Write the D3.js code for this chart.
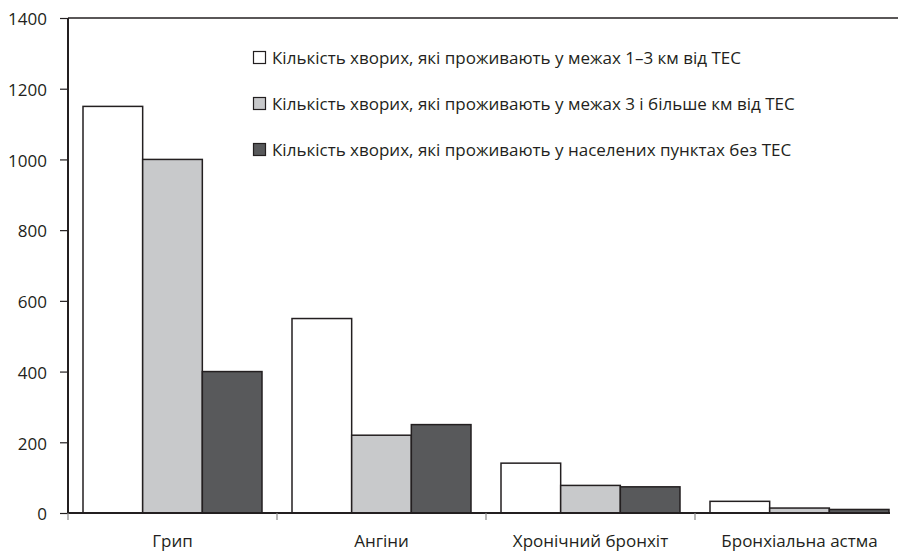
<!DOCTYPE html>
<html>
<head>
<meta charset="utf-8">
<script src="https://cdn.jsdelivr.net/npm/d3@7"></script>
<style>
	body { margin: 0; background: #fff; }
	text { font-family: "Open Sans", "Noto Sans", sans-serif; fill: #231f20; }
</style>
</head>
<body>
<svg width="898" height="551"></svg>
<script>
var categories = ['Грип', 'Ангіни', 'Хронічний бронхіт', 'Бронхіальна астма']
var seriesNames = [
	'Кількість хворих, які проживають у межах 1–3 км від ТЕС',
	'Кількість хворих, які проживають у межах 3 і більше км від ТЕС',
	'Кількість хворих, які проживають у населених пунктах без ТЕС'
]
var near = [1150, 550, 141, 33]
var far = [1000, 220, 78, 14]
var noTec = [400, 250, 74, 10]
var yTicks = [0, 200, 400, 600, 800, 1000, 1200, 1400]
var colors = ['#ffffff', '#c8c9cb', '#58595b']

var svg = d3.select('svg')
var margin = {left: 68, top: 18, right: -6, bottom: 38}
var width = 898 - margin.left - margin.right
var height = 551 - margin.top - margin.bottom
var ink = '#231f20'
var fontSize = '17px'

var g = svg.append('g').attr('transform', 'translate(' + margin.left + ',' + margin.top + ')')

var x0 = d3.scaleBand().domain(categories).range([0, width]).paddingInner(0).paddingOuter(0)
var x1 = d3.scaleBand().domain([0, 1, 2]).range([15, x0.bandwidth() - 15])
var y = d3.scaleLinear().domain([0, 1400]).range([height, 0])

var series = [near, far, noTec]

// bars
categories.forEach(function(cat, ci) {
	series.forEach(function(vals, si) {
		g.append('rect')
			.attr('x', x0(cat) + x1(si))
			.attr('y', y(vals[ci]))
			.attr('width', x1.bandwidth())
			.attr('height', y(0) - y(vals[ci]))
			.attr('fill', colors[si])
			.attr('stroke', ink)
			.attr('stroke-width', 1.5)
	})
})

// y axis
var yAxis = g.append('g')
	.call(d3.axisLeft(y).tickValues(yTicks).tickFormat(d3.format('d')).tickSize(8).tickPadding(13))
yAxis.select('.domain').remove()
yAxis.selectAll('line').attr('stroke', ink).attr('stroke-width', 1.2)
yAxis.selectAll('text').style('font-size', fontSize).attr('fill', ink).attr('dy', '0.4em')

g.append('line').attr('x1', 0).attr('x2', 0).attr('y1', 0).attr('y2', height)
	.attr('stroke', ink).attr('stroke-width', 2)
g.append('line').attr('x1', 0).attr('x2', 898 - margin.left).attr('y1', 0).attr('y2', 0)
	.attr('stroke', ink).attr('stroke-width', 1.5)

// x axis
var xAxis = g.append('g').attr('transform', 'translate(0,' + height + ')')
	.call(d3.axisBottom(x0).tickSize(0).tickPadding(22))
xAxis.select('.domain').remove()
xAxis.selectAll('text').style('font-size', fontSize).attr('fill', ink)
g.append('line').attr('x1', 0).attr('x2', 822).attr('y1', height).attr('y2', height)
	.attr('stroke', ink).attr('stroke-width', 2)
categories.forEach(function(cat) {
	g.append('line').attr('x1', x0(cat)).attr('x2', x0(cat))
		.attr('y1', height).attr('y2', height + 7)
		.attr('stroke', '#888').attr('stroke-width', 1.2)
})

// legend
var legend = svg.append('g').attr('transform', 'translate(253,51)')
seriesNames.forEach(function(name, i) {
	var row = legend.append('g').attr('transform', 'translate(0,' + (i * 46) + ')')
	row.append('rect').attr('x', 0.5).attr('y', 0.5).attr('width', 12).attr('height', 12)
		.attr('fill', colors[i]).attr('stroke', ink).attr('stroke-width', 1.2)
	row.append('text').attr('x', 19).attr('y', 13).style('font-size', fontSize).text(name)
})
</script>
</body>
</html>
